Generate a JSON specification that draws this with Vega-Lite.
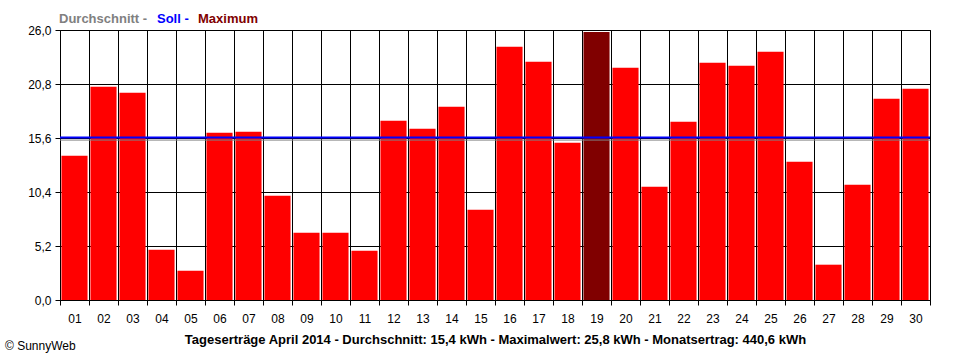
{
  "$schema": "https://vega.github.io/schema/vega-lite/v6.json",
  "width": 870,
  "height": 270,
  "autosize": "none",
  "padding": {"left": 60, "top": 30, "right": 30, "bottom": 60},
  "background": "white",
  "config": {
    "font": "Liberation Sans",
    "view": {"stroke": "black", "strokeWidth": 1}
  },
  "title": {
    "text": "© SunnyWeb",
    "orient": "bottom",
    "anchor": "start",
    "frame": "group",
    "dx": -55,
    "offset": -5,
    "fontSize": 12,
    "fontWeight": "normal",
    "color": "black",
    "font": "Liberation Sans"
  },
  "layer": [
    {
      "data": {
        "values": [
          {"tag": "01", "ertrag": 13.89, "typ": "Tag"},
          {"tag": "02", "ertrag": 20.54, "typ": "Tag"},
          {"tag": "03", "ertrag": 19.96, "typ": "Tag"},
          {"tag": "04", "ertrag": 4.84, "typ": "Tag"},
          {"tag": "05", "ertrag": 2.82, "typ": "Tag"},
          {"tag": "06", "ertrag": 16.11, "typ": "Tag"},
          {"tag": "07", "ertrag": 16.21, "typ": "Tag"},
          {"tag": "08", "ertrag": 10.04, "typ": "Tag"},
          {"tag": "09", "ertrag": 6.48, "typ": "Tag"},
          {"tag": "10", "ertrag": 6.48, "typ": "Tag"},
          {"tag": "11", "ertrag": 4.75, "typ": "Tag"},
          {"tag": "12", "ertrag": 17.27, "typ": "Tag"},
          {"tag": "13", "ertrag": 16.5, "typ": "Tag"},
          {"tag": "14", "ertrag": 18.61, "typ": "Tag"},
          {"tag": "15", "ertrag": 8.7, "typ": "Tag"},
          {"tag": "16", "ertrag": 24.39, "typ": "Tag"},
          {"tag": "17", "ertrag": 22.94, "typ": "Tag"},
          {"tag": "18", "ertrag": 15.15, "typ": "Tag"},
          {"tag": "19", "ertrag": 25.8, "typ": "Maximum"},
          {"tag": "20", "ertrag": 22.37, "typ": "Tag"},
          {"tag": "21", "ertrag": 10.91, "typ": "Tag"},
          {"tag": "22", "ertrag": 17.17, "typ": "Tag"},
          {"tag": "23", "ertrag": 22.85, "typ": "Tag"},
          {"tag": "24", "ertrag": 22.56, "typ": "Tag"},
          {"tag": "25", "ertrag": 23.91, "typ": "Tag"},
          {"tag": "26", "ertrag": 13.32, "typ": "Tag"},
          {"tag": "27", "ertrag": 3.4, "typ": "Tag"},
          {"tag": "28", "ertrag": 11.1, "typ": "Tag"},
          {"tag": "29", "ertrag": 19.38, "typ": "Tag"},
          {"tag": "30", "ertrag": 20.35, "typ": "Tag"}
        ]
      },
      "mark": {"type": "bar", "width": {"band": 0.9}},
      "encoding": {
        "x": {
          "field": "tag",
          "type": "ordinal",
          "scale": {"paddingInner": 0, "paddingOuter": 0},
          "axis": {
            "title": "Tageserträge April 2014 - Durchschnitt: 15,4 kWh - Maximalwert: 25,8 kWh - Monatsertrag: 440,6 kWh",
            "titleFontSize": 13,
            "titleFontWeight": "bold",
            "titleColor": "black",
            "titlePadding": 9,
            "labelAngle": 0,
            "labelFontSize": 12,
            "labelColor": "black",
            "labelPadding": 8,
            "tickBand": "extent",
            "tickSize": 5,
            "tickColor": "black",
            "grid": true,
            "gridColor": "black",
            "gridOpacity": 1,
            "domain": false
          }
        },
        "y": {
          "field": "ertrag",
          "type": "quantitative",
          "scale": {"domain": [0, 26], "nice": false},
          "axis": {
            "values": [0, 5.2, 10.4, 15.6, 20.8, 26],
            "labelExpr": "replace(format(datum.value, '.1f'), '.', ',')",
            "title": null,
            "tickSize": 5,
            "tickColor": "black",
            "labelColor": "black",
            "labelFontSize": 12,
            "labelPadding": 4,
            "grid": true,
            "gridColor": "black",
            "gridOpacity": 1,
            "domain": false
          }
        },
        "color": {
          "field": "typ",
          "type": "nominal",
          "scale": {
            "domain": ["Durchschnitt", "Soll", "Maximum", "Tag"],
            "range": ["#808080", "#0000ff", "#800000", "#ff0000"]
          },
          "legend": {
            "title": null,
            "orient": "top",
            "direction": "horizontal",
            "values": ["Durchschnitt", "Soll", "Maximum"],
            "labelExpr": "datum.value == 'Maximum' ? datum.label : datum.label + ' -'",
            "labelFontSize": 13,
            "labelFontWeight": "bold",
            "labelColor": {"expr": "datum.value == 'Soll' ? '#0000ff' : datum.value == 'Maximum' ? '#800000' : '#808080'"},
            "symbolSize": 0,
            "symbolOpacity": 0,
            "symbolStrokeWidth": 0,
            "labelOffset": -14,
            "columnPadding": 9,
            "offset": 4,
            "padding": 0
          }
        }
      }
    },
    {
      "data": {
        "values": [
          {"typ": "Durchschnitt", "ertrag": 15.4},
          {"typ": "Soll", "ertrag": 15.65}
        ]
      },
      "mark": {"type": "rule"},
      "encoding": {
        "y": {"field": "ertrag", "type": "quantitative"},
        "color": {"field": "typ", "type": "nominal"},
        "strokeWidth": {
          "field": "typ",
          "type": "nominal",
          "scale": {"domain": ["Durchschnitt", "Soll"], "range": [1, 2]},
          "legend": null
        }
      }
    }
  ]
}
